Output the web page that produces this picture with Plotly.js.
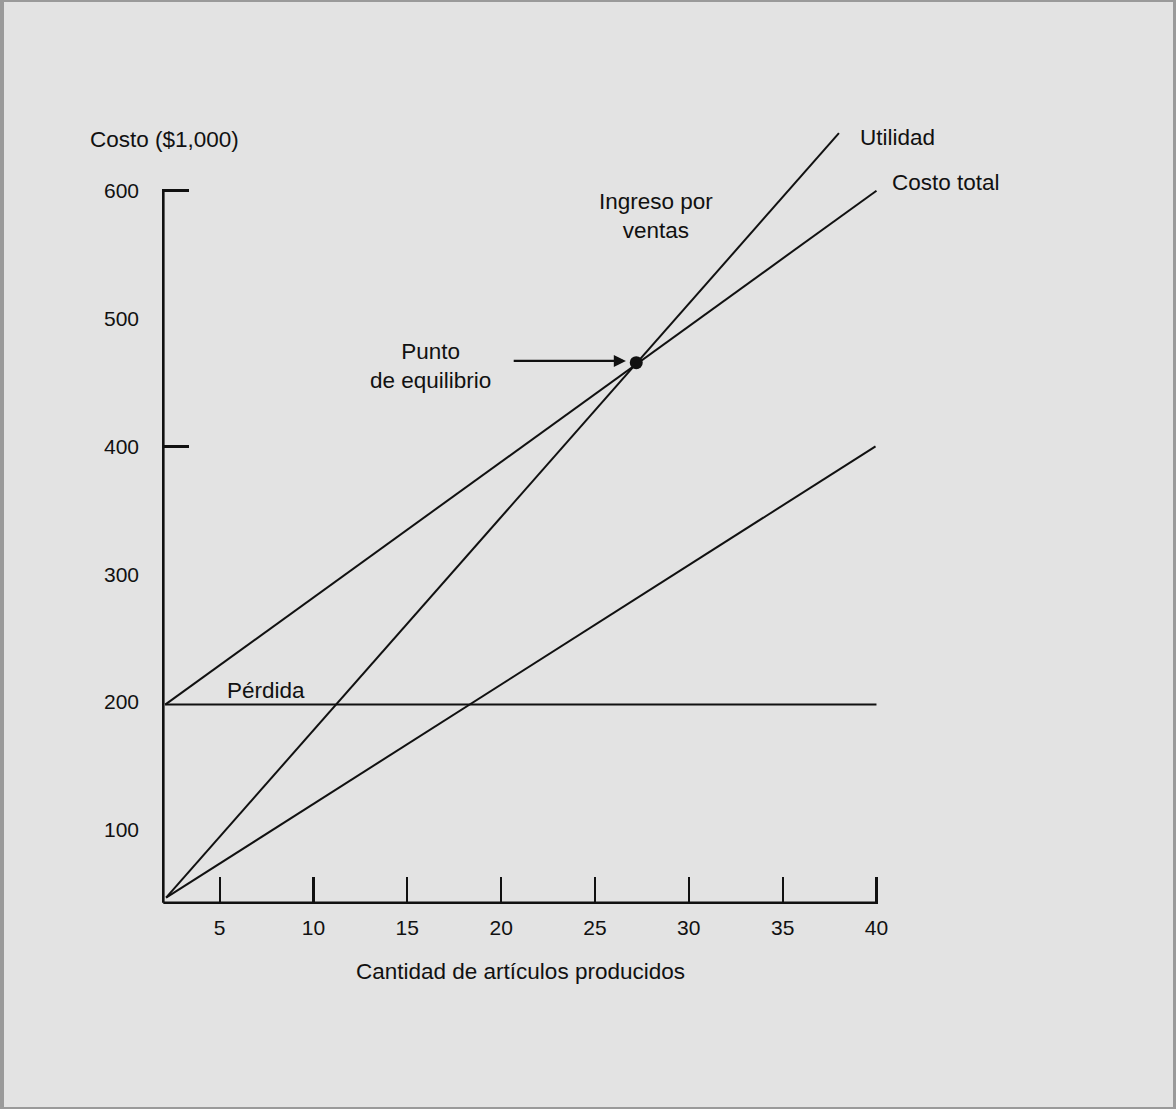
<!DOCTYPE html>
<html>
<head>
<meta charset="utf-8">
<script src="https://cdn.plot.ly/plotly-3.0.1.min.js"></script>
<style>
  html, body { margin: 0; padding: 0; background: #e3e3e3; }
  #wrap { position: relative; width: 1176px; height: 1109px; }
  #chart { width: 1176px; height: 1109px; }
  #frame { position: absolute; left: 0; top: 0; width: 1176px; height: 1109px; box-sizing: border-box;
           border-style: solid; border-color: #9a9a9a; border-width: 2px 3px 2px 4px; pointer-events: none; }
</style>
</head>
<body>
<div id="wrap"><div id="chart"></div><div id="frame"></div></div>
<script>
// ---- data (quantities in units, costs in $1,000) ----
const qFixed = [2.1, 40];          const fixedCost = [198, 198];
const qTotal = [2.1, 40];          const totalCost = [198, 600];
const qVariable = [2.15, 39.95];   const variableCost = [47, 400];
const qRevenue = [2.15, 38.0];     const revenue = [47, 645];
const breakEvenQ = [27.2];         const breakEvenCost = [465.5];
const axisXq = [2, 40.05];         const axisXcost = [43, 43];
const axisYq = [2, 2];             const axisYcost = [43, 600];
const xTickVals = [5, 10, 15, 20, 25, 30, 35, 40];
const xTickText = ['5', '10', '15', '20', '25', '30', '35', '40'];
const yLabelVals = [100, 200, 300, 400, 500, 600];
const yLabelText = ['100', '200', '300', '400', '500', '600'];
const yMarkVals = [400, 600];

const FONT = 'Liberation Sans, Arial, Helvetica, sans-serif';
const TXT = {family: FONT, size: 22.5, color: '#111'};
const black = '#111';

const line = (x, y, w, axis) => ({x, y, type: 'scatter', mode: 'lines', yaxis: axis || 'y',
  line: {color: black, width: w || 2}, hoverinfo: 'skip', showlegend: false});

const traces = [
  line(axisXq, axisXcost, 2.6),
  line(axisYq, axisYcost, 2.6, 'y2'),
  line(qFixed, fixedCost),
  line(qTotal, totalCost),
  line(qVariable, variableCost),
  line(qRevenue, revenue),
  {x: breakEvenQ, y: breakEvenCost, type: 'scatter', mode: 'markers',
   marker: {color: black, size: 13}, hoverinfo: 'skip', showlegend: false}
];

const ann = (text, x, y, xanchor) => ({text, x, y, xref: 'x', yref: 'y', showarrow: false,
  xanchor: xanchor || 'left', yanchor: 'middle', font: TXT, align: 'center'});
const pann = (text, x, y, xanchor) => ({text, x, y, xref: 'paper', yref: 'paper', showarrow: false,
  xanchor: xanchor || 'left', yanchor: 'middle', font: TXT, align: 'center'});

const annotations = [
  pann('Costo ($1,000)', -0.0984, 0.968),
  pann('Cantidad de artículos producidos', 0.477, -0.0860, 'center'),
  ann('Utilidad', 39.04, 641.6),
  ann('Costo total', 40.74, 606.3),
  ann('Ingreso por<br>ventas', 28.27, 580, 'center'),
  ann('Punto<br>de equilibrio', 16.22, 463, 'center'),
  ann('Costo variable', 42.93, 407.6),
  ann('Costo fijo', 43.56, 198.7),
  ann('Pérdida', 5.27, 209),
  {x: 26.65, y: 466.8, ax: 20.59, ay: 466.8, xref: 'x', yref: 'y', axref: 'x', ayref: 'y',
   text: '', showarrow: true, arrowhead: 2, arrowsize: 1.1, arrowwidth: 2.2, arrowcolor: black, standoff: 0}
];

const layout = {
  width: 1176, height: 1109,
  paper_bgcolor: '#e3e3e3', plot_bgcolor: 'rgba(0,0,0,0)',
  margin: {l: 162, r: 262, t: 114, b: 205},
  showlegend: false,
  font: {family: FONT, size: 21, color: black},
  xaxis: {range: [1.93, 42], showgrid: false, zeroline: false, showline: false,
          tickmode: 'array', tickvals: xTickVals, ticktext: xTickText,
          ticks: 'inside', ticklen: 27, tickwidth: 2.2, tickcolor: black,
          ticklabelstandoff: 9, tickfont: {family: FONT, size: 21, color: black}},
  yaxis: {range: [42, 660], showgrid: false, zeroline: false, showline: false,
          tickmode: 'array', tickvals: yLabelVals, ticktext: yLabelText,
          ticks: '', ticklabelstandoff: 22, tickfont: {family: FONT, size: 21, color: black}},
  yaxis2: {range: [42, 660], overlaying: 'y', side: 'left', showgrid: false, zeroline: false, showline: false,
           tickmode: 'array', tickvals: yMarkVals, ticks: 'inside', ticklen: 27, tickwidth: 2.6,
           tickcolor: black, showticklabels: false},
  annotations
};

Plotly.newPlot('chart', traces, layout, {staticPlot: true, displayModeBar: false});
</script>
</body>
</html>
